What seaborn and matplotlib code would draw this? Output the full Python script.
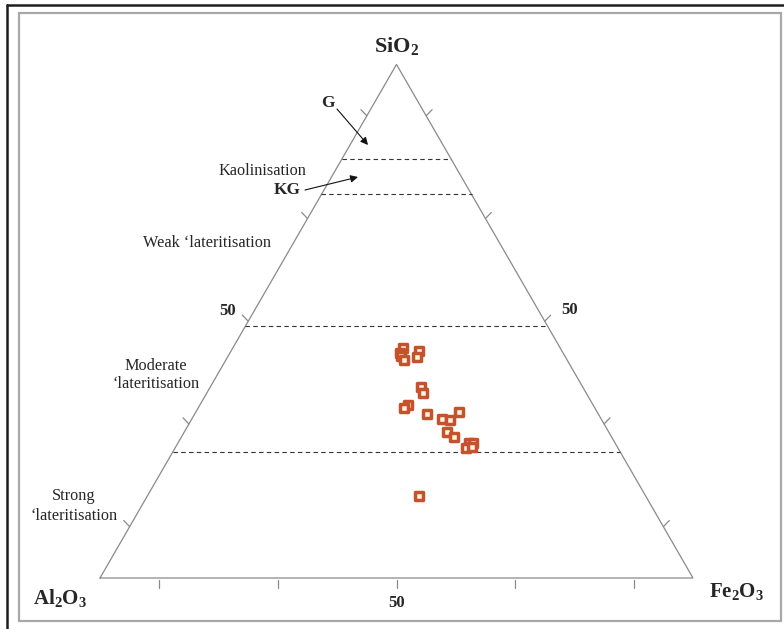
import numpy as np
import pandas as pd
import matplotlib
matplotlib.use("Agg")
import matplotlib.pyplot as plt
from matplotlib.lines import Line2D
from matplotlib.patches import Rectangle
import seaborn as sns

# ---------------- data (wt %) ----------------
sio2 = [44.8, 43.9, 43.3, 42.5, 44.2, 43.1, 37.2, 36.1, 33.7, 33.1, 32.0,
        31.0, 30.8, 32.4, 28.5, 27.5, 26.3, 26.3, 25.3, 25.5, 16.0]
al2o3 = [26.5, 27.5, 27.6, 27.5, 24.1, 25.0, 27.3, 27.5, 31.2, 32.2, 28.9,
         26.8, 25.6, 23.3, 27.3, 26.6, 24.6, 23.9, 25.6, 24.5, 38.2]
fe2o3 = [28.7, 28.7, 29.1, 30.0, 31.7, 31.9, 35.5, 36.4, 35.1, 34.7, 39.1,
         42.2, 43.6, 44.4, 44.3, 45.9, 49.1, 49.7, 49.1, 50.0, 45.8]
zone_limits = [81.6, 74.7, 49.0, 24.6]          # SiO2 % of dashed boundaries
tick_values = [10, 30, 50, 70, 90]
apex_labels = [r"$\mathbf{Al_2O_3}$", r"$\mathbf{Fe_2O_3}$", r"$\mathbf{SiO_2}$"]
zone_labels = ["Kaolinisation", "Weak \u2018lateritisation",
               "Moderate\n\u2018lateritisation", "Strong\n\u2018lateritisation"]

# ---------------- style ----------------
sns.set_theme(style="white")
plt.rcParams["font.family"] = ["Liberation Serif", "DejaVu Serif"]
plt.rcParams["mathtext.fontset"] = "custom"
plt.rcParams["mathtext.rm"] = "Liberation Serif"
plt.rcParams["mathtext.bf"] = "Liberation Serif:bold"
plt.rcParams["mathtext.it"] = "Liberation Serif:italic"

H = np.sqrt(3) / 2


def tern(si, al, fe):
    si, al, fe = (np.asarray(v, dtype=float) for v in (si, al, fe))
    tot = si + al + fe
    return (fe + si / 2) / tot, si / tot * H


df = pd.DataFrame({"SiO2": sio2, "Al2O3": al2o3, "Fe2O3": fe2o3})
df["x"], df["y"] = tern(df["SiO2"], df["Al2O3"], df["Fe2O3"])

W, Hpx = 784, 629
fig = plt.figure(figsize=(W / 100, Hpx / 100), dpi=100)
ax = fig.add_axes([0, 0, 1, 1])
S = 593.0  # pixels per unit


def px(xp, yp):
    return (xp - 100) / S, (578 - yp) / S


ax.set_xlim(-100 / S, (W - 100) / S)
ax.set_ylim((578 - Hpx) / S, 578 / S)
ax.set_axis_off()

# frame
fig.add_artist(Rectangle((19 / W, 1 - 621 / Hpx), (781 - 19) / W, (621 - 13) / Hpx,
                         transform=fig.transFigure, fill=False,
                         edgecolor="#a8a8a8", lw=1.6))
fig.add_artist(Line2D([7 / W, 7 / W], [0, 1 - 5 / Hpx], transform=fig.transFigure,
                      color="#1e1e1e", lw=1.8))
fig.add_artist(Line2D([7 / W, 1], [1 - 5 / Hpx, 1 - 5 / Hpx], transform=fig.transFigure,
                      color="#1e1e1e", lw=1.8))

# triangle
tri_col = "#8a8a8a"
ax.plot([0, 1, 0.5, 0], [0, 0, H, 0], color=tri_col, lw=0.9, solid_joinstyle="miter")

# ticks
tl = 8.5 / S
for v in tick_values:
    f = v / 100
    ax.plot([f, f], [-1.5 / S, -1.5 / S - tl], color=tri_col, lw=0.9)
    lx, ly = f / 2, f * H
    ax.plot([lx, lx - tl * 0.7], [ly, ly + tl * 0.72], color=tri_col, lw=0.9)
    rx, ry = 1 - f / 2, f * H
    ax.plot([rx, rx + tl * 0.7], [ry, ry + tl * 0.72], color=tri_col, lw=0.9)

# zone boundaries
for z in zone_limits:
    f = z / 100
    ax.plot([f / 2, 1 - f / 2], [f * H, f * H], color="#333333", lw=0.8,
            linestyle=(0, (4, 3)))

# data points
sns.scatterplot(data=df, x="x", y="y", marker="s", s=30, color="#fff3e2",
                edgecolor="#c6512d", linewidth=2.5, ax=ax, legend=False, zorder=5)

# apex labels
ax.text(*px(60, 598), apex_labels[0], fontsize=15, ha="center", va="center")
ax.text(*px(737, 591), apex_labels[1], fontsize=15, ha="center", va="center")
ax.text(*px(397, 46), apex_labels[2], fontsize=16, ha="center", va="center")

# 50 labels
for (a, b) in [(228, 311), (570, 310), (397, 603)]:
    ax.text(*px(a, b), "50", fontsize=12, fontweight="bold",
            ha="center", va="center")

# zone labels
ax.text(*px(262, 171), zone_labels[0], fontsize=11.7, ha="center", va="center")
ax.text(*px(207, 243), zone_labels[1], fontsize=11.7, ha="center", va="center")
ax.text(*px(156, 375), zone_labels[2], fontsize=11.7, ha="center", va="center",
        linespacing=1.15)
ax.text(*px(74, 506), zone_labels[3], fontsize=11.7, ha="center", va="center",
        linespacing=1.3)
ax.text(*px(328, 103), "G", fontsize=12.5, fontweight="bold", ha="center", va="center")
ax.text(*px(287, 190), "KG", fontsize=12.5, fontweight="bold", ha="center", va="center")

arrow = dict(arrowstyle="-|>", color="#111111", lw=0.8, mutation_scale=11,
             shrinkA=0, shrinkB=0)
ax.annotate("", xy=px(368, 145), xytext=px(337, 109), arrowprops=arrow)
ax.annotate("", xy=px(358, 177), xytext=px(305, 190), arrowprops=arrow)

fig.savefig("out.png", dpi=100, facecolor="white")
